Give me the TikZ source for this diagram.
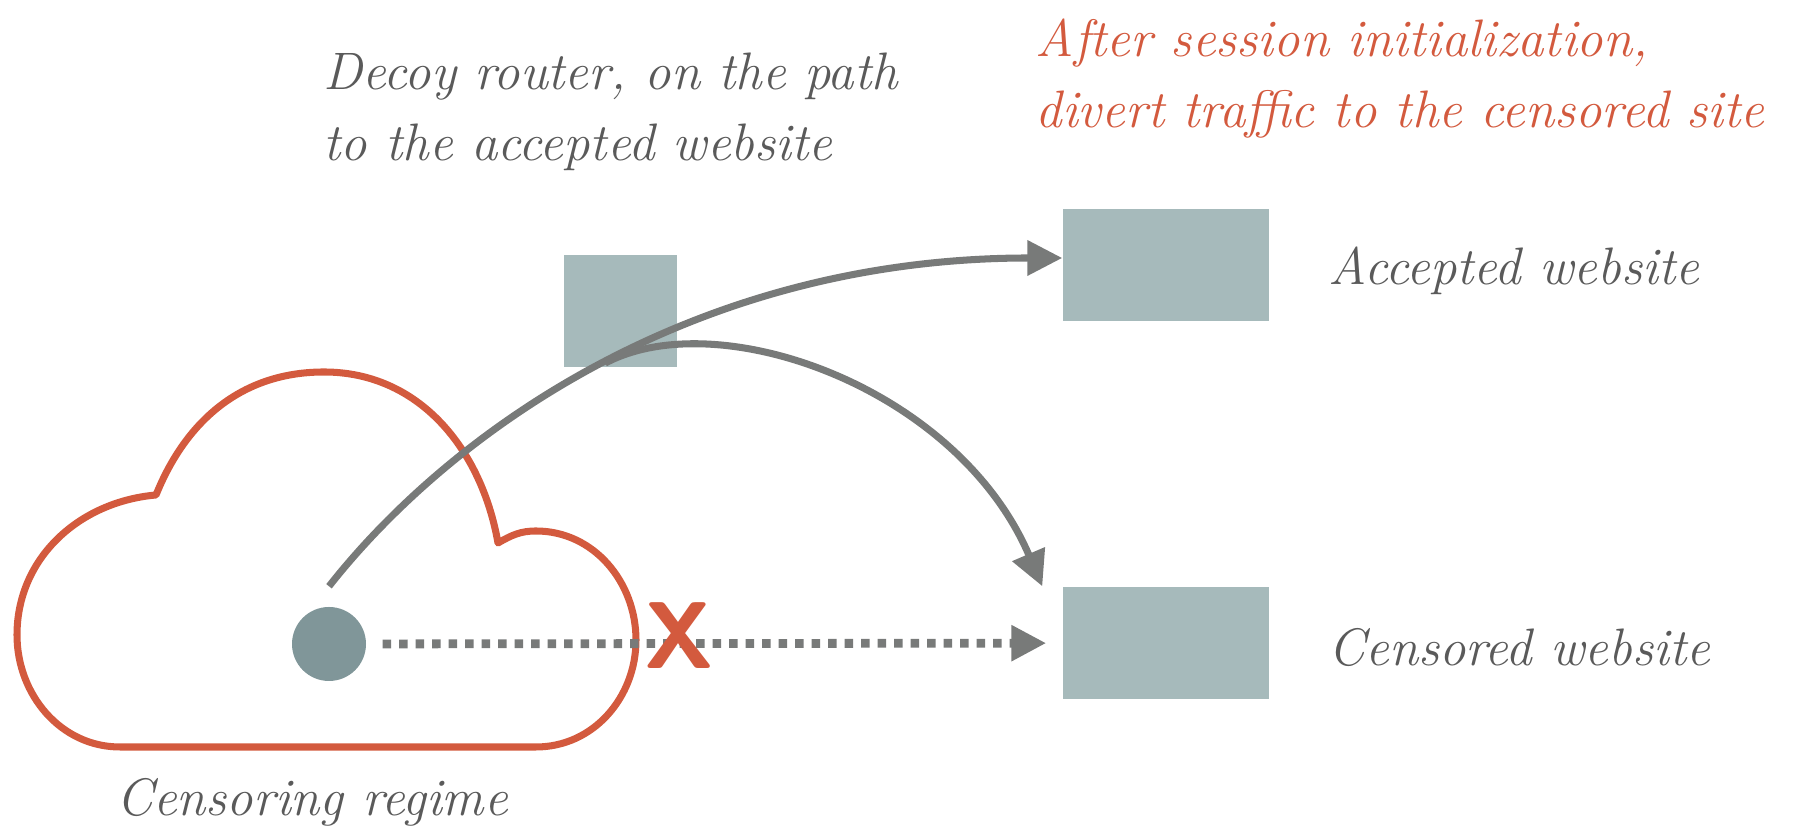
\documentclass[tikz,border=0pt]{standalone}
\usepackage{xcolor}
\usepackage{tikz}
\usetikzlibrary{positioning}
\usetikzlibrary{arrows.meta}

\definecolor{boxgray}{RGB}{166,186,187}
\definecolor{dotgray}{RGB}{128,150,153}
\definecolor{linegray}{RGB}{120,122,121}
\definecolor{textgray}{RGB}{90,90,90}
\definecolor{rust}{RGB}{211,90,62}

\begin{document}
\begin{tikzpicture}
                [sitebox/.style = {fill=boxgray, minimum width=2.06cm, minimum height=1.12cm, inner sep=0},
                 client/.style = {fill=dotgray, circle, minimum size=0.74cm, inner sep=0},
                 route/.style = {draw=linegray, line width=2pt, -{Triangle[length=3.5mm,width=3.4mm]}},
                 blocked/.style = {route, line width=2.5pt, dash pattern=on 0.85mm off 0.8mm, shorten <=1.6mm, shorten >=1.6mm},
                 txt/.style = {text=textgray, font=\fontsize{15}{20.2}\selectfont\itshape, inner sep=0, align=left},
                 cloudline/.style = {draw=rust, line width=2pt, line join=round}]

                \useasboundingbox (0,0) rectangle (17.98,8.35);

                % the censoring regime
                \draw[cloudline] (1.56,3.40) to[out=68,in=180] (3.24,4.63)
                    to[out=0,in=100] (4.98,2.92)
                    to[out=30,in=180] (5.36,3.04)
                    to[out=0,in=90] (6.36,1.95)
                    to[out=-90,in=0] (5.36,0.88)
                    -- (1.20,0.88)
                    to[out=180,in=-90] (0.17,2.00)
                    to[out=90,in=185] cycle;

                \node[sitebox] (accepted) at (11.66,5.70) {};
                \node[sitebox, minimum width=1.13cm] (decoy) at (6.20,5.24) {};
                \node[sitebox] (censored) at (11.66,1.92) {};
                \node[client] (user) at (3.29,1.91) {};
                \coordinate[above=2mm of user] (start);

                \draw[blocked] (user) -- (censored);
                \node[text=rust, font=\fontsize{27}{27}\selectfont\sffamily\bfseries, inner sep=0] (stop) at (6.79,1.99) {X};

                \draw[route] (start) .. controls (4.53,4.06) and (6.97,5.77) .. ([yshift=0.7mm]accepted.west)
                    coordinate[pos=0.5] (fork);
                \draw[route] (fork) .. controls (7.18,5.32) and (9.57,4.48) .. ([xshift=-2mm]censored.north west);

                \node[txt, anchor=north west] (decoynote) at (3.23,7.83) {Decoy router, on the path\\to the accepted website};
                \node[txt, text=rust, anchor=north west] (divertnote) at (10.35,8.17) {After session initialization,\\divert traffic to the censored site};
                \node[txt, right=5.8mm of accepted, yshift=-0.6mm] (acceptedlbl) {Accepted website};
                \node[txt, right=5.8mm of censored, yshift=-0.5mm] (censoredlbl) {Censored website};
                \node[txt, anchor=base] (regimelbl) at (3.12,0.19) {Censoring regime};

            \end{tikzpicture}
\end{document}
